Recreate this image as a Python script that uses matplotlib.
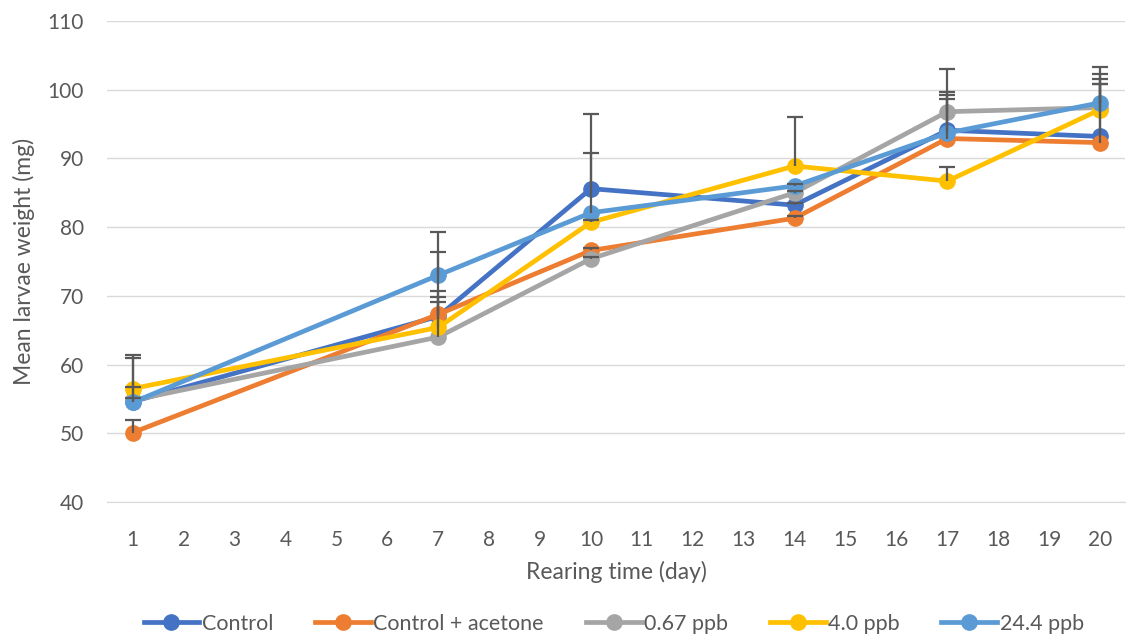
import numpy as np
import matplotlib
matplotlib.use("Agg")
import matplotlib.pyplot as plt

# Rearing days (category axis 1..20) and sampled days
days_axis = list(range(1, 21))
sample_days = [1, 7, 10, 14, 17, 20]

series_names = ["Control", "Control + acetone", "0.67 ppb", "4.0 ppb", "24.4 ppb"]
colors = ["#4472C4", "#ED7D31", "#A5A5A5", "#FFC000", "#5B9BD5"]

control = [54.6, 67.0, 85.6, 83.2, 94.1, 93.2]
control_acetone = [50.1, 67.3, 76.6, 81.3, 92.9, 92.3]
ppb_067 = [54.8, 64.0, 75.4, 85.0, 96.8, 97.4]
ppb_40 = [56.5, 65.4, 80.7, 88.9, 86.7, 97.1]
ppb_244 = [54.5, 73.0, 82.1, 86.0, 93.7, 98.1]

# upper error bars (SD)
err_control = [6.8, 9.4, 10.9, 0.3, 5.6, 8.4]
err_control_acetone = [1.8, 3.4, 0.3, 0.3, 5.8, 8.5]
err_ppb_067 = [0.3, 5.1, 0.3, 0.3, 6.2, 4.9]
err_ppb_40 = [0.3, 4.5, 0.3, 7.1, 2.1, 3.7]
err_ppb_244 = [6.5, 6.3, 8.7, 0.3, 5.5, 5.2]

values = [control, control_acetone, ppb_067, ppb_40, ppb_244]
errors = [err_control, err_control_acetone, err_ppb_067, err_ppb_40, err_ppb_244]

text_color = "#595959"
plt.rcParams['font.family'] = ['Lato', 'DejaVu Sans']

fig = plt.figure(figsize=(11.3, 6.37), dpi=100)
ax = fig.add_axes([0.095, 0.212, 0.901, 0.755])

for name, col, vals in zip(series_names, colors, values):
    ax.plot(sample_days, vals, color=col, lw=3.4, marker='o', markersize=11,
            label=name, zorder=3)

# error bars drawn on top, upper only
for vals, errs in zip(values, errors):
    v = np.array(vals)
    e = np.array(errs)
    ax.vlines(sample_days, v, v + e, color=text_color, lw=1.6, zorder=4)
    ax.plot(sample_days, v + e, ls='none', marker='_', markersize=12,
            markeredgewidth=1.6, color=text_color, zorder=4)

ax.set_xlim(0.5, 20.5)
ax.set_ylim(40, 110)
ax.set_xticks(days_axis)
ax.set_yticks(range(40, 111, 10))
ax.tick_params(axis='x', length=0, labelsize=15, colors=text_color, pad=20)
ax.tick_params(axis='y', length=0, labelsize=15, colors=text_color, pad=17)
ax.yaxis.grid(True, color="#D9D9D9", lw=1)
ax.set_axisbelow(True)
for s in ["top", "right", "left"]:
    ax.spines[s].set_visible(False)
ax.spines["bottom"].set_color("#D9D9D9")

ax.set_xlabel("Rearing time (day)", fontsize=16.5, color=text_color, labelpad=8)
ax.set_ylabel("Mean larvae weight (mg)", fontsize=16.5, color=text_color, labelpad=9)

leg = fig.legend(loc="lower center", bbox_to_anchor=(0.543, -0.025), ncol=5,
                 frameon=False, fontsize=15.5, handlelength=2.6, handletextpad=0.1,
                 columnspacing=1.95)
for t in leg.get_texts():
    t.set_color(text_color)

fig.savefig("out.png", dpi=100)
